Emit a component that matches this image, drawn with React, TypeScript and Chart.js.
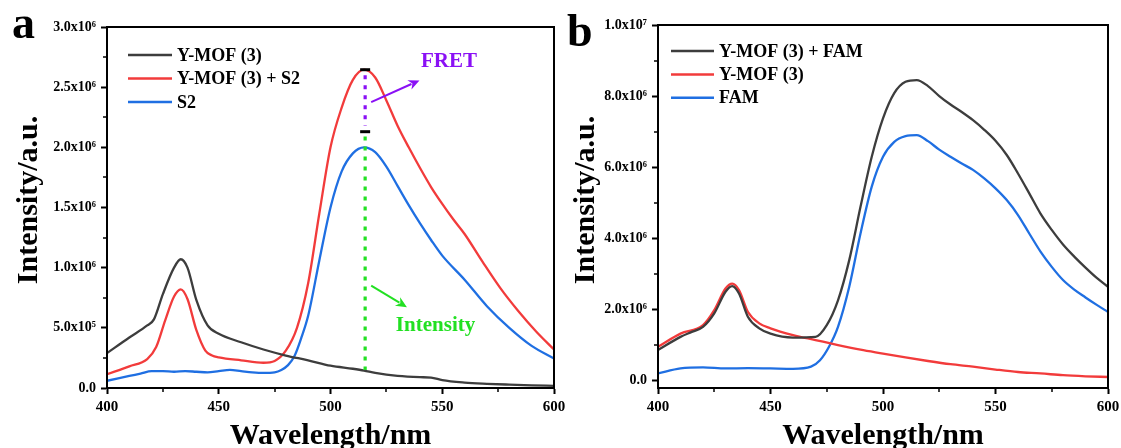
import React, { useEffect, useRef } from 'react';
import { Chart, registerables } from 'chart.js';
Chart.register(...registerables);

const FONT = '"Liberation Serif", "Times New Roman", "DejaVu Serif", serif';
const GREY = '#3d3d3d';
const RED = '#f23b3b';
const BLUE = '#1f6fe2';
const PURPLE = '#8a10f5';
const GREEN = '#22e022';

// ---------- Panel a (values in 1e6 a.u.) ----------
const aBlackX = [400, 410, 418, 421, 425, 430, 433, 436, 440, 445, 450, 460, 470, 480, 490, 500, 510, 515, 520, 530, 540, 545, 550, 560, 570, 580, 590, 600];
const aBlackY = [0.29, 0.42, 0.52, 0.57, 0.78, 1.0, 1.07, 1.0, 0.73, 0.52, 0.45, 0.38, 0.32, 0.27, 0.23, 0.185, 0.16, 0.145, 0.125, 0.1, 0.09, 0.087, 0.065, 0.045, 0.035, 0.028, 0.022, 0.018];
const aRedX = [400, 410, 418, 422, 426, 430, 433, 436, 440, 444, 447, 450, 460, 470, 475, 480, 485, 490, 495, 500, 505, 510, 515, 520, 525, 530, 535, 540, 545, 550, 555, 560, 568, 576, 584, 592, 600];
const aRedY = [0.115, 0.18, 0.24, 0.34, 0.56, 0.76, 0.82, 0.74, 0.48, 0.31, 0.27, 0.255, 0.23, 0.21, 0.225, 0.31, 0.5, 0.87, 1.45, 2.0, 2.33, 2.56, 2.645, 2.58, 2.39, 2.18, 2.0, 1.83, 1.67, 1.53, 1.4, 1.28, 1.05, 0.83, 0.64, 0.47, 0.32];
const aBlueX = [400, 405, 410, 415, 420, 425, 430, 435, 440, 445, 450, 455, 460, 465, 470, 475, 478, 481, 484, 487, 490, 495, 500, 505, 510, 515, 520, 525, 530, 535, 540, 545, 550, 560, 570, 580, 590, 600];
const aBlueY = [0.06, 0.08, 0.1, 0.12, 0.14, 0.14, 0.135, 0.14, 0.135, 0.13, 0.14, 0.15, 0.14, 0.13, 0.125, 0.13, 0.15, 0.19, 0.27, 0.42, 0.6, 1.06, 1.5, 1.8, 1.95, 2.0, 1.96, 1.84, 1.68, 1.52, 1.37, 1.23, 1.1, 0.9, 0.68, 0.5, 0.35, 0.245];

// ---------- Panel b (values in 1e6 a.u.) ----------
const bBlackX = [400, 410, 415, 420, 425, 430, 433, 436, 440, 445, 450, 460, 470, 475, 480, 485, 490, 495, 500, 505, 510, 515, 520, 525, 530, 535, 540, 545, 550, 555, 560, 565, 570, 575, 580, 585, 590, 595, 600];
const bBlackY = [0.85, 1.22, 1.36, 1.5, 1.88, 2.49, 2.65, 2.44, 1.78, 1.46, 1.31, 1.2, 1.22, 1.55, 2.25, 3.38, 4.88, 6.29, 7.37, 8.08, 8.4, 8.45, 8.28, 8.0, 7.76, 7.55, 7.32, 7.05, 6.74, 6.34, 5.82, 5.26, 4.69, 4.23, 3.82, 3.48, 3.17, 2.88, 2.63];
const bRedX = [400, 410, 420, 425, 430, 433, 436, 440, 445, 450, 460, 470, 480, 490, 500, 510, 520, 530, 540, 550, 560, 570, 580, 590, 600];
const bRedY = [0.94, 1.31, 1.55, 1.97, 2.58, 2.72, 2.54, 1.92, 1.6, 1.46, 1.27, 1.13, 0.99, 0.86, 0.75, 0.64, 0.54, 0.45, 0.38, 0.3, 0.23, 0.19, 0.14, 0.11, 0.09];
const bBlueX = [400, 410, 420, 430, 440, 450, 460, 468, 472, 476, 480, 485, 490, 495, 500, 505, 510, 515, 520, 525, 530, 535, 540, 545, 550, 555, 560, 565, 570, 575, 580, 585, 590, 595, 600];
const bBlueY = [0.19, 0.33, 0.36, 0.33, 0.34, 0.33, 0.32, 0.38, 0.56, 0.94, 1.5, 2.63, 4.13, 5.45, 6.29, 6.71, 6.87, 6.9, 6.73, 6.49, 6.29, 6.1, 5.92, 5.68, 5.4, 5.07, 4.65, 4.13, 3.62, 3.19, 2.82, 2.55, 2.33, 2.12, 1.92];

// ---------- Axes ----------
const xTicks = [400, 450, 500, 550, 600];
const xMinor = [425, 475, 525, 575];
const aYTicks = [0, 0.5, 1.0, 1.5, 2.0, 2.5, 3.0];
const aYMinor = [0.25, 0.75, 1.25, 1.75, 2.25, 2.75];
const bYTicks = [0, 2, 4, 6, 8, 10];
const bYMinor = [1, 3, 5, 7, 9];

const aLegend = ['Y-MOF (3)', 'Y-MOF (3) + S2', 'S2'];
const bLegend = ['Y-MOF (3) + FAM', 'Y-MOF (3)', 'FAM'];

// ---------- Panel a annotations (data units) ----------
const peakX = 515.5;
const capLevels = [2.645, 2.13];
const fretDots = [2.6, 2.18];
const intensityDots = [2.09, 0.15];
const fretArrow = [[518.2, 2.376], [539.8, 2.556]];
const intensityArrow = [[518.2, 0.851], [534.2, 0.671]];
const fretLabel = { x: 553, y: 2.71, text: 'FRET' };
const intensityLabel = { x: 547, y: 0.52, text: 'Intensity' };

const SUP: Record<string, string> = { '0': '⁰', '1': '¹', '2': '²', '3': '³', '4': '⁴', '5': '⁵', '6': '⁶', '7': '⁷', '8': '⁸', '9': '⁹' };
function fmt(v: number): string {
  if (v === 0) return '0.0';
  const e = Math.floor(Math.log10(v) + 1e-9);
  const m = v / Math.pow(10, e);
  return m.toFixed(1) + 'x10' + String(e).split('').map((c) => SUP[c]).join('');
}

const pts = (xs: number[], ys: number[]) => xs.map((x, i) => ({ x, y: ys[i] * 1e6 }));

function arrow(ctx: CanvasRenderingContext2D, x1: number, y1: number, x2: number, y2: number, color: string) {
  const ang = Math.atan2(y2 - y1, x2 - x1);
  const hl = 11, hw = 5;
  ctx.strokeStyle = color; ctx.fillStyle = color; ctx.lineWidth = 2; ctx.setLineDash([]);
  ctx.beginPath(); ctx.moveTo(x1, y1);
  ctx.lineTo(x2 - Math.cos(ang) * hl * 0.8, y2 - Math.sin(ang) * hl * 0.8); ctx.stroke();
  ctx.beginPath();
  ctx.moveTo(x2, y2);
  ctx.lineTo(x2 - Math.cos(ang) * hl - Math.sin(ang) * hw, y2 - Math.sin(ang) * hl + Math.cos(ang) * hw);
  ctx.lineTo(x2 - Math.cos(ang) * hl * 0.7, y2 - Math.sin(ang) * hl * 0.7);
  ctx.lineTo(x2 - Math.cos(ang) * hl + Math.sin(ang) * hw, y2 - Math.sin(ang) * hl - Math.cos(ang) * hw);
  ctx.closePath(); ctx.fill();
}

type PanelCfg = {
  width: number; left: number; padTop: number; padRight: number; yAxisWidth: number;
  yMin: number; yMax: number; yTicks: number[]; yMinor: number[];
  series: { label: string; color: string; data: { x: number; y: number }[] }[];
  letter: string; letterX: number; letterY: number;
  legendX: number; legendY: number; legendGap: number; legendLen: number;
  yTitleX: number; annotate: boolean;
};

function makeOverlay(cfg: PanelCfg) {
  return {
    id: 'overlay',
    afterDraw(chart: any) {
      const { ctx, chartArea: a, scales } = chart;
      const xs = scales.x, ys = scales.y;
      ctx.save();
      // frame
      ctx.strokeStyle = '#000'; ctx.lineWidth = 2; ctx.setLineDash([]);
      ctx.strokeRect(a.left, a.top, a.right - a.left, a.bottom - a.top);
      // minor ticks
      ctx.lineWidth = 1.5;
      xMinor.forEach((v) => {
        const p = Math.round(xs.getPixelForValue(v));
        ctx.beginPath(); ctx.moveTo(p, a.bottom); ctx.lineTo(p, a.bottom + 4); ctx.stroke();
      });
      cfg.yMinor.forEach((v) => {
        const p = Math.round(ys.getPixelForValue(v * 1e6));
        ctx.beginPath(); ctx.moveTo(a.left - 4, p); ctx.lineTo(a.left, p); ctx.stroke();
      });
      // legend
      ctx.font = `bold 18px ${FONT}`; ctx.textBaseline = 'middle'; ctx.textAlign = 'left';
      cfg.series.forEach((s, i) => {
        const y = cfg.legendY + i * cfg.legendGap;
        ctx.strokeStyle = s.color; ctx.lineWidth = 2.5;
        ctx.beginPath(); ctx.moveTo(cfg.legendX, y); ctx.lineTo(cfg.legendX + cfg.legendLen, y); ctx.stroke();
        ctx.fillStyle = '#000';
        ctx.fillText(s.label, cfg.legendX + cfg.legendLen + 5, y + 1);
      });
      // axis titles
      ctx.font = `bold 30px ${FONT}`; ctx.fillStyle = '#000'; ctx.textAlign = 'center'; ctx.textBaseline = 'middle';
      ctx.fillText('Wavelength/nm', (a.left + a.right) / 2, 436);
      ctx.save();
      ctx.translate(cfg.yTitleX, 200); ctx.rotate(-Math.PI / 2);
      ctx.fillText('Intensity/a.u.', 0, 0);
      ctx.restore();
      // panel letter
      ctx.font = `bold 46px ${FONT}`; ctx.textAlign = 'left'; ctx.textBaseline = 'alphabetic';
      ctx.fillText(cfg.letter, cfg.letterX, cfg.letterY);
      // annotations
      if (cfg.annotate) {
        const px = xs.getPixelForValue(peakX);
        ctx.strokeStyle = '#000'; ctx.lineWidth = 3; ctx.setLineDash([]);
        capLevels.forEach((v) => {
          const py = ys.getPixelForValue(v * 1e6);
          ctx.beginPath(); ctx.moveTo(px - 5, py); ctx.lineTo(px + 5, py); ctx.stroke();
        });
        ctx.lineWidth = 3.2; ctx.setLineDash([4, 6]);
        ctx.strokeStyle = PURPLE;
        ctx.beginPath(); ctx.moveTo(px, ys.getPixelForValue(fretDots[0] * 1e6)); ctx.lineTo(px, ys.getPixelForValue(fretDots[1] * 1e6)); ctx.stroke();
        ctx.strokeStyle = GREEN;
        ctx.beginPath(); ctx.moveTo(px, ys.getPixelForValue(intensityDots[0] * 1e6)); ctx.lineTo(px, ys.getPixelForValue(intensityDots[1] * 1e6)); ctx.stroke();
        ctx.setLineDash([]);
        arrow(ctx, xs.getPixelForValue(fretArrow[0][0]), ys.getPixelForValue(fretArrow[0][1] * 1e6), xs.getPixelForValue(fretArrow[1][0]), ys.getPixelForValue(fretArrow[1][1] * 1e6), PURPLE);
        arrow(ctx, xs.getPixelForValue(intensityArrow[0][0]), ys.getPixelForValue(intensityArrow[0][1] * 1e6), xs.getPixelForValue(intensityArrow[1][0]), ys.getPixelForValue(intensityArrow[1][1] * 1e6), GREEN);
        ctx.font = `bold 21px ${FONT}`; ctx.textAlign = 'center'; ctx.textBaseline = 'middle';
        ctx.fillStyle = PURPLE;
        ctx.fillText(fretLabel.text, xs.getPixelForValue(fretLabel.x), ys.getPixelForValue(fretLabel.y * 1e6));
        ctx.fillStyle = GREEN;
        ctx.fillText(intensityLabel.text, xs.getPixelForValue(intensityLabel.x), ys.getPixelForValue(intensityLabel.y * 1e6));
      }
      ctx.restore();
    },
  };
}

function Panel({ cfg }: { cfg: PanelCfg }) {
  const ref = useRef<HTMLCanvasElement | null>(null);
  useEffect(() => {
    const xFont = { family: FONT, size: 15, weight: 'bold' as const };
    const yFont = { family: FONT, size: 14, weight: 'bold' as const };
    const chart = new Chart(ref.current as HTMLCanvasElement, {
      type: 'line',
      data: {
        datasets: cfg.series.map((s) => ({
          label: s.label, data: s.data, borderColor: s.color, backgroundColor: s.color,
          borderWidth: 2.3, pointRadius: 0, cubicInterpolationMode: 'monotone' as const, fill: false,
        })),
      },
      options: {
        responsive: false, animation: false, devicePixelRatio: 1,
        layout: { padding: { left: 0, top: cfg.padTop, right: cfg.padRight, bottom: 0 } },
        plugins: { legend: { display: false }, tooltip: { enabled: false } },
        scales: {
          x: {
            type: 'linear', min: 400, max: 600,
            afterBuildTicks: (s: any) => { s.ticks = xTicks.map((value) => ({ value })); },
            afterFit: (s: any) => { s.height = 60; s.paddingLeft = 0; s.paddingRight = 0; },
            grid: { drawOnChartArea: false, drawTicks: true, tickLength: 6, tickWidth: 2, tickColor: '#000' },
            border: { display: true, color: '#000', width: 2 },
            ticks: { font: xFont, color: '#000', padding: 4, maxRotation: 0, autoSkip: false, callback: (v: any) => String(v) },
          },
          y: {
            type: 'linear', min: cfg.yMin * 1e6, max: cfg.yMax * 1e6,
            afterBuildTicks: (s: any) => { s.ticks = cfg.yTicks.map((v) => ({ value: v * 1e6 })); },
            afterFit: (s: any) => { s.width = cfg.yAxisWidth; s.paddingTop = 0; s.paddingBottom = 0; },
            grid: { drawOnChartArea: false, drawTicks: true, tickLength: 6, tickWidth: 2, tickColor: '#000' },
            border: { display: true, color: '#000', width: 2 },
            ticks: { font: yFont, color: '#000', padding: 5, autoSkip: false, callback: (v: any) => fmt(Number(v)) },
          },
        },
      },
      plugins: [makeOverlay(cfg)],
    } as any);
    return () => chart.destroy();
  }, []);
  return (
    <canvas
      ref={ref}
      width={cfg.width}
      height={448}
      style={{ position: 'absolute', left: cfg.left, top: 0, width: cfg.width, height: 448 }}
    />
  );
}

const panelA: PanelCfg = {
  width: 600, left: 0, padTop: 27, padRight: 600 - 554, yAxisWidth: 107,
  yMin: 0, yMax: 3.0, yTicks: aYTicks, yMinor: aYMinor,
  series: [
    { label: aLegend[0], color: GREY, data: pts(aBlackX, aBlackY) },
    { label: aLegend[1], color: RED, data: pts(aRedX, aRedY) },
    { label: aLegend[2], color: BLUE, data: pts(aBlueX, aBlueY) },
  ],
  letter: 'a', letterX: 12, letterY: 38,
  legendX: 128, legendY: 55, legendGap: 23.5, legendLen: 44,
  yTitleX: 29, annotate: true,
};

const panelB: PanelCfg = {
  width: 561, left: 560, padTop: 25, padRight: 561 - 548, yAxisWidth: 98,
  yMin: -0.22, yMax: 10, yTicks: bYTicks, yMinor: bYMinor,
  series: [
    { label: bLegend[0], color: GREY, data: pts(bBlackX, bBlackY) },
    { label: bLegend[1], color: RED, data: pts(bRedX, bRedY) },
    { label: bLegend[2], color: BLUE, data: pts(bBlueX, bBlueY) },
  ],
  letter: 'b', letterX: 7, letterY: 46,
  legendX: 111, legendY: 51, legendGap: 23.4, legendLen: 43,
  yTitleX: 26, annotate: false,
};

export default function App() {
  return (
    <div style={{ position: 'absolute', left: 0, top: 0, width: 1121, height: 448, background: '#fff', overflow: 'hidden' }}>
      <Panel cfg={panelA} />
      <Panel cfg={panelB} />
    </div>
  );
}
